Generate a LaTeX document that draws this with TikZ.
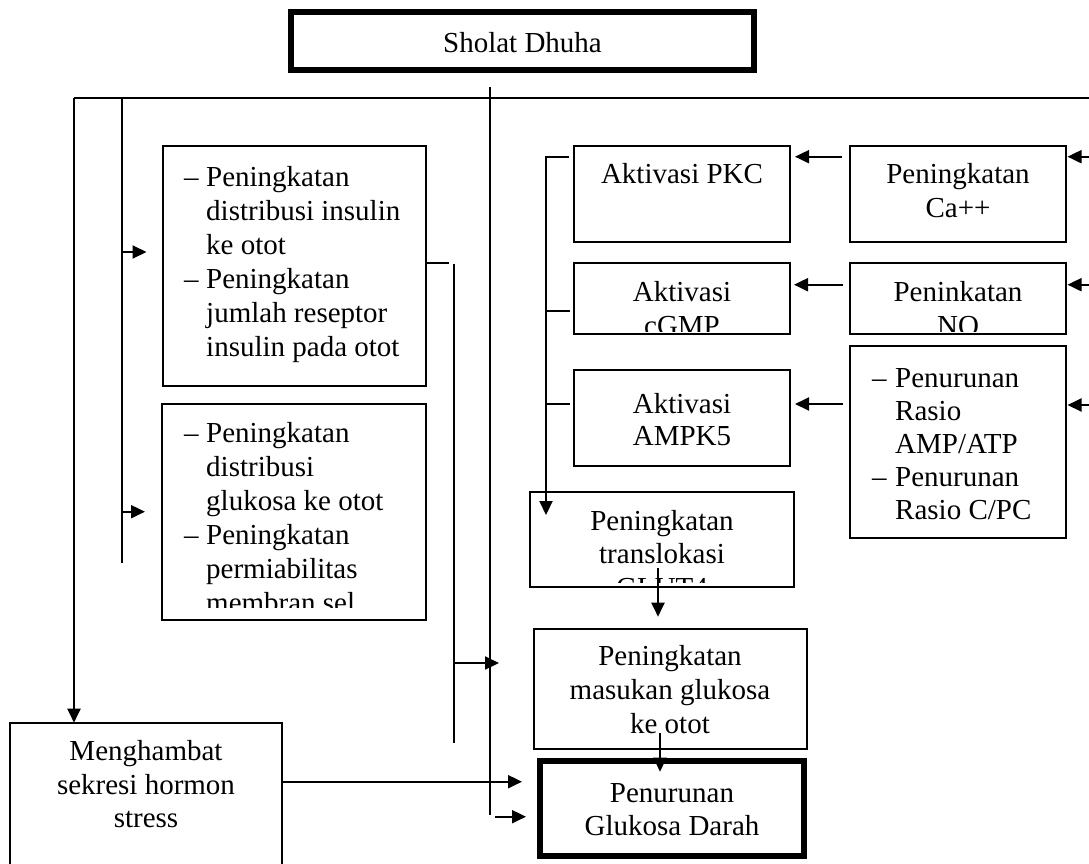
\documentclass[tikz,border=0pt]{standalone}
\usepackage{fontspec}
\setmainfont{Liberation Serif}
\usetikzlibrary{arrows.meta,calc}
\newcommand\fsz{\fontsize{29}{34}\selectfont}
\begin{document}
\begin{tikzpicture}[x=1pt,y=-1pt,
  box/.style={draw, line width=2pt, inner sep=0pt, outer sep=0pt, anchor=north west},
  bbox/.style={draw, line width=5.5pt, inner sep=0pt, outer sep=0pt, anchor=north west},
  txt/.style={font=\fsz, inner sep=0pt, align=center, anchor=base},
  ltxt/.style={font=\fsz, inner sep=0pt, align=left, anchor=base west},
  ln/.style={line width=2pt},
  arr/.style={line width=2pt, -{Triangle[length=14pt,width=13pt]}}]
\useasboundingbox (0,0) rectangle (1089,863);
\fill[white] (0,0) rectangle (1089,863);

% boxes (text nodes are anchored at the baseline of their last line)
\node[bbox, minimum width=463pt, minimum height=58pt] (top) at (291,12) {};
\node[txt] (top-t) at (522.5,52) {Sholat Dhuha};

\node[box, minimum width=263.5pt, minimum height=240pt] (b1) at (162.5,145.7) {};
\node[ltxt] (b1-t) at (184,356) {\makebox[22pt][l]{–}Peningkatan\\\hspace*{22pt}distribusi insulin\\\hspace*{22pt}ke otot\\\makebox[22pt][l]{–}Peningkatan\\\hspace*{22pt}jumlah reseptor\\\hspace*{22pt}insulin pada otot};

\node[box, minimum width=264pt, minimum height=216pt] (b2) at (162,404) {};
\begin{scope}
\clip (163,405) rectangle (425,607);
\node[ltxt] (b2-t) at (184,612) {\makebox[22pt][l]{–}Peningkatan\\\hspace*{22pt}distribusi\\\hspace*{22pt}glukosa ke otot\\\makebox[22pt][l]{–}Peningkatan\\\hspace*{22pt}permiabilitas\\\hspace*{22pt}membran sel};
\end{scope}

\node[box, minimum width=272pt, minimum height=150pt] (mh) at (10,722.7) {};
\node[txt, font={\fontsize{29}{33.3}\selectfont}] (mh-t) at (146,827.3) {Menghambat\\sekresi hormon\\stress};

\node[box, minimum width=216pt, minimum height=96.3pt] (pkc) at (574,145.7) {};
\node[txt] (pkc-t) at (682,183) {Aktivasi PKC};

\node[box, minimum width=216pt, minimum height=96.3pt] (ca) at (850,145.7) {};
\node[txt] (ca-t) at (958,217) {Peningkatan\\Ca++};

\node[box, minimum width=216pt, minimum height=71pt] (cgmp) at (574,263) {};
\begin{scope}
\clip (575,264) rectangle (789,331);
\node[txt] (cgmp-t) at (682,335) {Aktivasi\\cGMP};
\end{scope}

\node[box, minimum width=216pt, minimum height=71pt] (no) at (850,263) {};
\begin{scope}
\clip (851,264) rectangle (1065,331);
\node[txt] (no-t) at (958,335) {Peninkatan\\NO};
\end{scope}

\node[box, minimum width=216pt, minimum height=96pt] (ampk) at (574,370) {};
\node[txt, font={\fontsize{29}{32}\selectfont}] (ampk-t) at (682,445) {Aktivasi\\AMPK5};

\node[box, minimum width=216pt, minimum height=191.7pt] (rasio) at (850,346) {};
\node[ltxt, font={\fontsize{29}{33}\selectfont}] (rasio-t) at (872,519) {\makebox[23pt][l]{–}Penurunan\\\hspace*{23pt}Rasio\\\hspace*{23pt}AMP/ATP\\\makebox[23pt][l]{–}Penurunan\\\hspace*{23pt}Rasio C/PC};

\node[box, minimum width=264pt, minimum height=95.3pt] (glut) at (530,491.7) {};
\begin{scope}
\clip (531,492.7) rectangle (793,582);
\node[txt, font={\fontsize{29}{33.5}\selectfont}] (glut-t) at (662,597) {Peningkatan\\translokasi\\GLUT4};
\end{scope}

\node[box, minimum width=272.7pt, minimum height=120pt] (mas) at (534,629) {};
\node[txt] (mas-t) at (670,733) {Peningkatan\\masukan glukosa\\ke otot};

\node[bbox, minimum width=264pt, minimum height=95pt] (pen) at (540,761) {};
\node[txt, font={\fontsize{29}{33}\selectfont}] (pen-t) at (672,835) {Penurunan\\Glukosa Darah};

% connectors
\coordinate (hL) at (74,97.7);
\coordinate (hL2) at (122,97.7);
\coordinate (hR) at (1089,97.7);
\coordinate (tr0) at (490,87);
\coordinate (tr1) at (490,815);
\draw[ln] (hL) -- (hR);
\draw[ln] (tr0) -- (tr1);
\draw[arr] (hL) -- (mh.north west -| hL);
\coordinate (l2b) at (122,562.7);
\draw[ln] (hL2) -- (l2b);
\draw[arr] (122,252) -- ($(b1.west |- 0,252)+(-16,0)$);
\draw[arr] (122,511.7) -- ($(b2.west |- 0,511.7)+(-17,0)$);

\coordinate (c1a) at (449,262.7);
\draw[ln] (b1.east |- c1a) -- (c1a);
\coordinate (c1b) at (453.6,264);
\coordinate (c1c) at (453.6,742.7);
\draw[ln] (c1b) -- (c1c);
\draw[arr] (453,663) -- ($(mas.west |- 0,663)+(-35,0)$);
\draw[arr] (mh.east |- 0,781.7) -- ($(pen.west |- 0,781.7)+(-18,0)$);
\draw[arr] (495,816.7) -- ($(pen.west |- 0,816.7)+(-14,0)$);

% bracket on the left of the middle column
\coordinate (bk0) at (546,156.7);
\draw[arr] ($(pkc.west |- bk0)+(-5,0)$) -- (bk0) -- ($(glut.north west -| bk0)+(0,23.3)$);
\draw[ln] (bk0 |- 0,311) -- ($(cgmp.west |- 0,311)+(-4,0)$);
\draw[ln] (bk0 |- 0,404) -- ($(ampk.west |- 0,404)+(-4,0)$);

% arrows between columns
\draw[arr] ($(ca.west |- 0,156.7)+(-8,0)$) -- ($(pkc.east |- 0,156.7)+(5,0)$);
\draw[arr] ($(no.west |- 0,284.7)+(-7,0)$) -- ($(cgmp.east |- 0,284.7)+(4,0)$);
\draw[arr] ($(rasio.west |- 0,404)+(-7,0)$) -- ($(ampk.east |- 0,404)+(5,0)$);

% arrows entering from the right edge
\coordinate (r1) at (1089,156.7);
\coordinate (r2) at (1089,284.7);
\coordinate (r3) at (1089,405);
\draw[arr] (r1) -- ($(ca.east |- r1)+(1.5,0)$);
\draw[arr] (r2) -- ($(no.east |- r2)+(1.5,0)$);
\draw[arr] (r3) -- ($(rasio.east |- r3)+(1.5,0)$);

% vertical arrows in the middle column
\draw[arr] (658,568) -- ($(mas.north -| 658,0)+(0,-12.3)$);
\draw[arr] (660,733) -- ($(pen.north -| 660,0)+(0,10.7)$);
\end{tikzpicture}
\end{document}
